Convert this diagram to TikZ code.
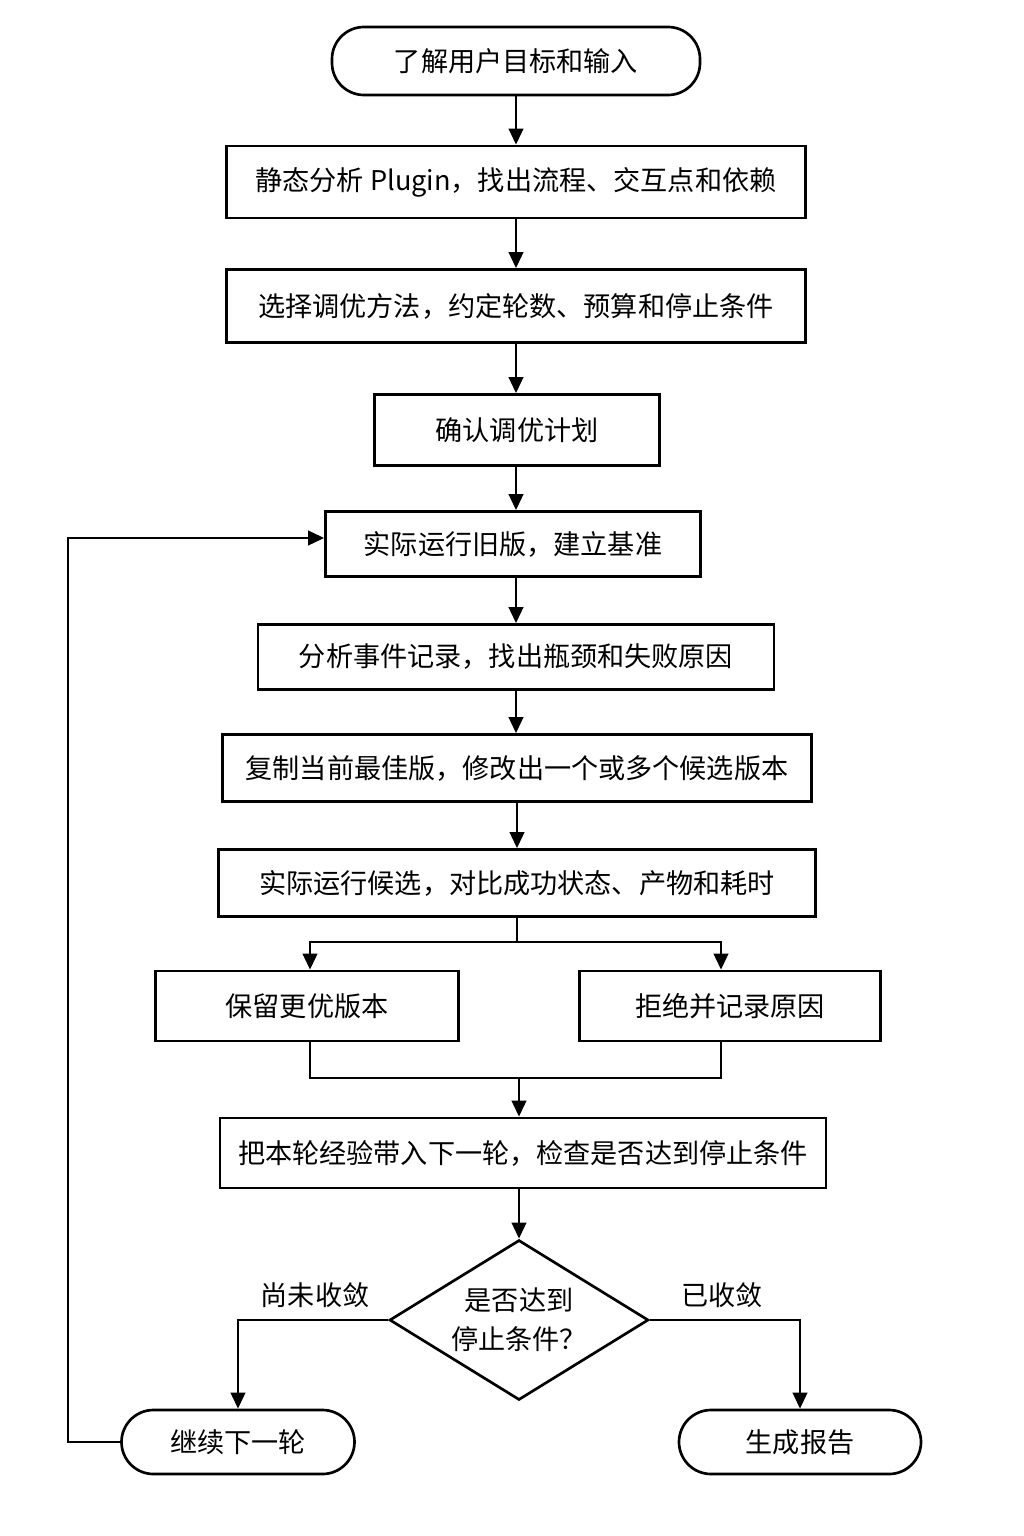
\documentclass[tikz,border=0pt]{standalone}
\usepackage{fontspec}
\setmainfont{Noto Sans CJK SC}
\usetikzlibrary{arrows.meta,shapes.geometric}

\begin{document}
\begin{tikzpicture}[x=0.025cm, y=-0.025cm, font=\fontsize{19.3pt}{28pt}\selectfont]
    \def\u{0.025cm}

    \tikzset{
        box/.style={draw, line width=1.9pt, inner sep=0pt, align=center},
        term/.style={box, rounded corners=0.8cm},
        cond/.style={box, diamond, aspect=1.62},
        line/.style={line width=1.9pt},
        arr/.style={line, -{Triangle[length=0.4cm, width=0.36cm]}}
    }

    \useasboundingbox (0,0) rectangle (1024,1536);

    % main column
    \node[term, minimum width=368*\u, minimum height=68*\u] (start) at (516,61)  {了解用户目标和输入};
    \node[box,  minimum width=579*\u, minimum height=72*\u] (stat)  at (516,182) {静态分析 Plugin，找出流程、交互点和依赖};
    \node[box,  minimum width=579*\u, minimum height=73*\u] (plan)  at (516,306) {选择调优方法，约定轮数、预算和停止条件};
    \node[box,  minimum width=285*\u, minimum height=71*\u] (conf)  at (517,430) {确认调优计划};
    \node[box,  minimum width=375*\u, minimum height=65*\u] (base)  at (513,544) {实际运行旧版，建立基准};
    \node[box,  minimum width=516*\u, minimum height=65*\u] (anal)  at (516,657) {分析事件记录，找出瓶颈和失败原因};
    \node[box,  minimum width=589*\u, minimum height=67*\u] (copy)  at (517,768) {复制当前最佳版，修改出一个或多个候选版本};
    \node[box,  minimum width=597*\u, minimum height=67*\u] (run)   at (517,883) {实际运行候选，对比成功状态、产物和耗时};

    % branches
    \node[box,  minimum width=303*\u, minimum height=70*\u] (keep)  at (307,1006) {保留更优版本};
    \node[box,  minimum width=301*\u, minimum height=70*\u] (rej)   at (730,1006) {拒绝并记录原因};
    \node[box,  minimum width=606*\u, minimum height=70*\u] (chk)   at (523,1153) {把本轮经验带入下一轮，检查是否达到停止条件};

    % decision
    \node[cond, minimum width=259*\u, minimum height=160*\u] (dec) at (519,1320) {是否达到\\停止条件？};
    \node[term, minimum width=233*\u, minimum height=64*\u] (cont) at (238,1442) {继续下一轮};
    \node[term, minimum width=242*\u, minimum height=64*\u] (rep)  at (800,1442) {生成报告};
    \node (notyet) at (315,1295) {尚未收敛};
    \node (done)   at (722,1295) {已收敛};

    \coordinate (fork) at (517,942);
    \coordinate (join) at (519,1078);
    \coordinate (back) at (68,538);

    % connectors
    \draw[arr] (start.south) -- (start.south |- stat.north);
    \draw[arr] (stat.south) -- (stat.south |- plan.north);
    \draw[arr] (plan.south) -- (plan.south |- conf.north);
    \draw[arr] (start.south |- conf.south) -- (start.south |- base.north);
    \draw[arr] (start.south |- base.south) -- (start.south |- anal.north);
    \draw[arr] (start.south |- anal.south) -- (start.south |- copy.north);
    \draw[arr] (copy.south) -- (copy.south |- run.north);

    \draw[line] (run.south) -- (fork);
    \draw[arr] (fork) -| ([xshift=3*\u]keep.north);
    \draw[arr] (fork) -| ([xshift=-9*\u]rej.north);
    \draw[line] ([xshift=3*\u]keep.south) |- (join) -| ([xshift=-9*\u]rej.south);
    \draw[arr] (join) -- (join |- chk.north);
    \draw[arr] (dec.north |- chk.south) -- (dec.north);

    \draw[arr] (dec.west) -| (cont.north);
    \draw[arr] (dec.east) -| (rep.north);
    \draw[arr] (cont.west) -| (back) -- (back -| base.west);

\end{tikzpicture}
\end{document}
